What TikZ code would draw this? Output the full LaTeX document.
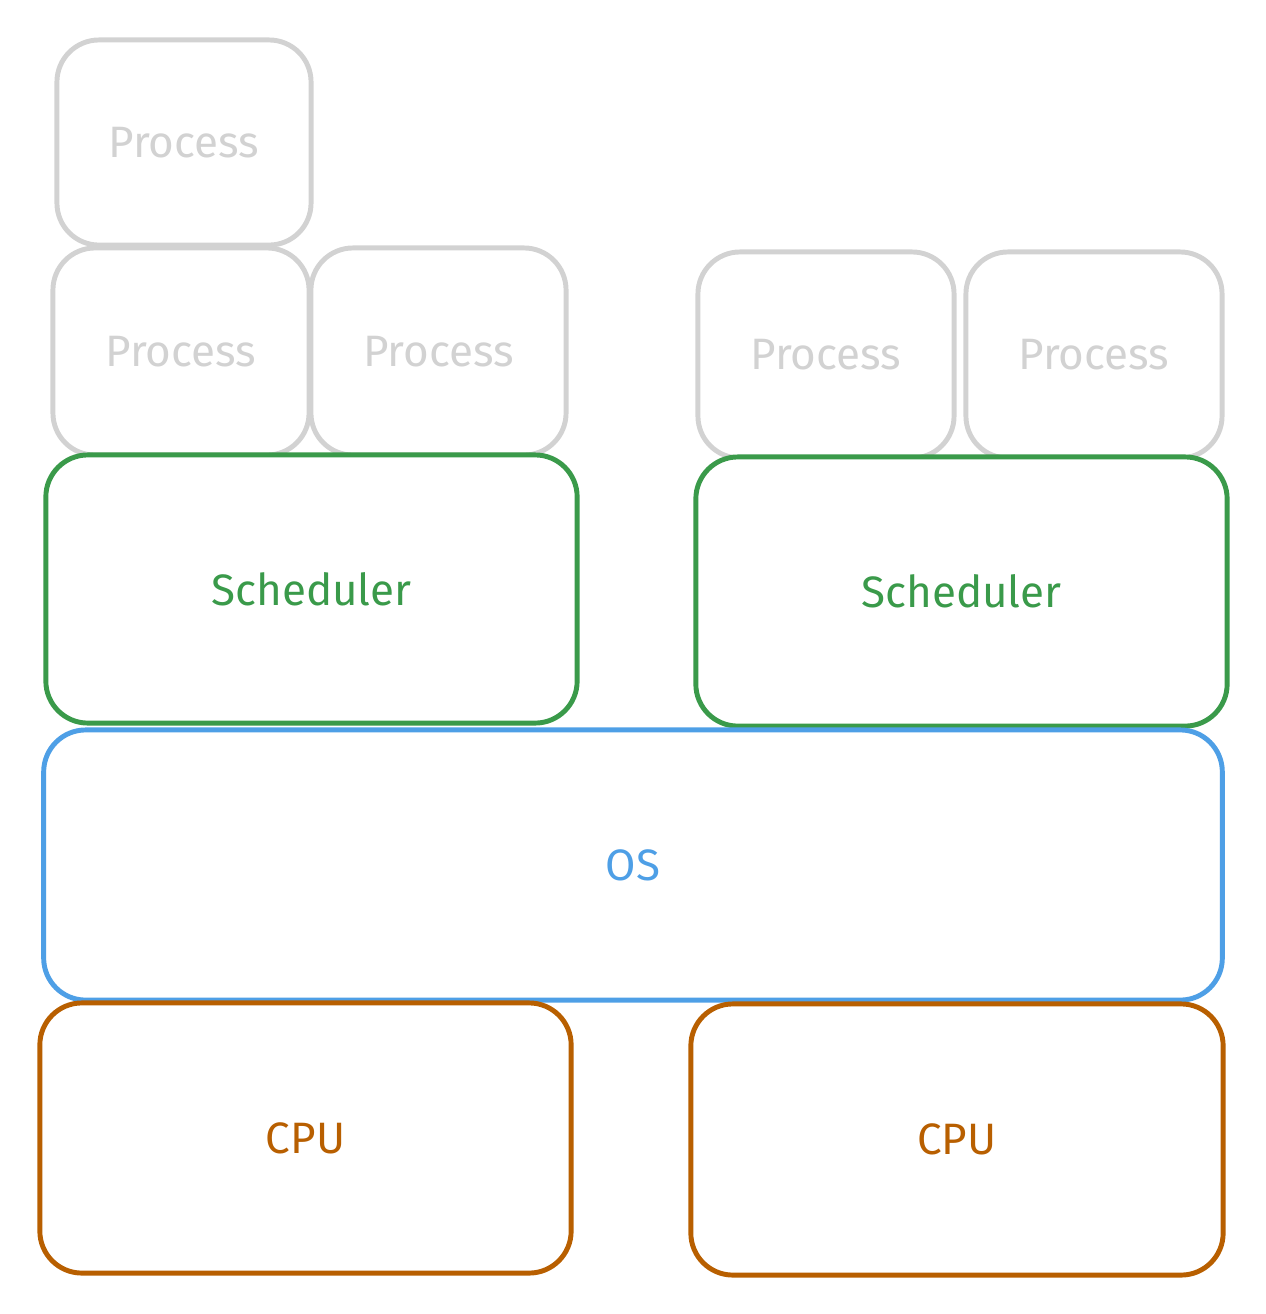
\documentclass[tikz,border=0pt]{standalone}
\usepackage{fontspec}
\setmainfont{Fira Sans}
\usetikzlibrary{arrows.meta}

\definecolor{procgray}{HTML}{D2D2D2}
\definecolor{schedgreen}{HTML}{3A9A4A}
\definecolor{osblue}{HTML}{4E9FE6}
\definecolor{cpuorange}{HTML}{B85F00}

\begin{document}
\begin{tikzpicture}[
    x=0.01cm, y=-0.01cm,
    layer/.style={draw, line width=1.4pt, rounded corners=0.42cm, fill=white,
        font=\fontsize{12.5}{15}\selectfont, inner sep=0pt},
    procbox/.style={layer, draw=procgray, text=procgray},
    schedbox/.style={layer, draw=schedgreen, text=schedgreen},
    osbox/.style={layer, draw=osblue, text=osblue},
    cpubox/.style={layer, draw=cpuorange, text=cpuorange}
]
    \useasboundingbox (0,0) rectangle (1266,1314);

    % Processes
    \node[procbox, minimum width=2.54cm, minimum height=2.05cm] (proc0) at (184,142.5) {Process};
    \node[procbox, minimum width=2.56cm, minimum height=2.07cm] (proc1) at (181,351.5) {Process};
    \node[procbox, minimum width=2.55cm, minimum height=2.07cm] (proc2) at (438.5,351.5) {Process};
    \node[procbox, minimum width=2.56cm, minimum height=2.06cm] (proc3) at (826,355) {Process};
    \node[procbox, minimum width=2.56cm, minimum height=2.06cm] (proc4) at (1094,355) {Process};

    % Schedulers
    \node[schedbox, minimum width=5.31cm, minimum height=2.68cm] (sched1) at (311.5,589) {Scheduler};
    \node[schedbox, minimum width=5.31cm, minimum height=2.69cm] (sched2) at (961.5,591.5) {Scheduler};

    % OS
    \node[osbox, minimum width=11.78cm, minimum height=2.70cm] (os) at (633,865) {OS};

    % CPUs
    \node[cpubox, minimum width=5.31cm, minimum height=2.70cm] (cpu1) at (305.5,1138) {CPU};
    \node[cpubox, minimum width=5.32cm, minimum height=2.71cm] (cpu2) at (957,1139.5) {CPU};
\end{tikzpicture}
\end{document}
